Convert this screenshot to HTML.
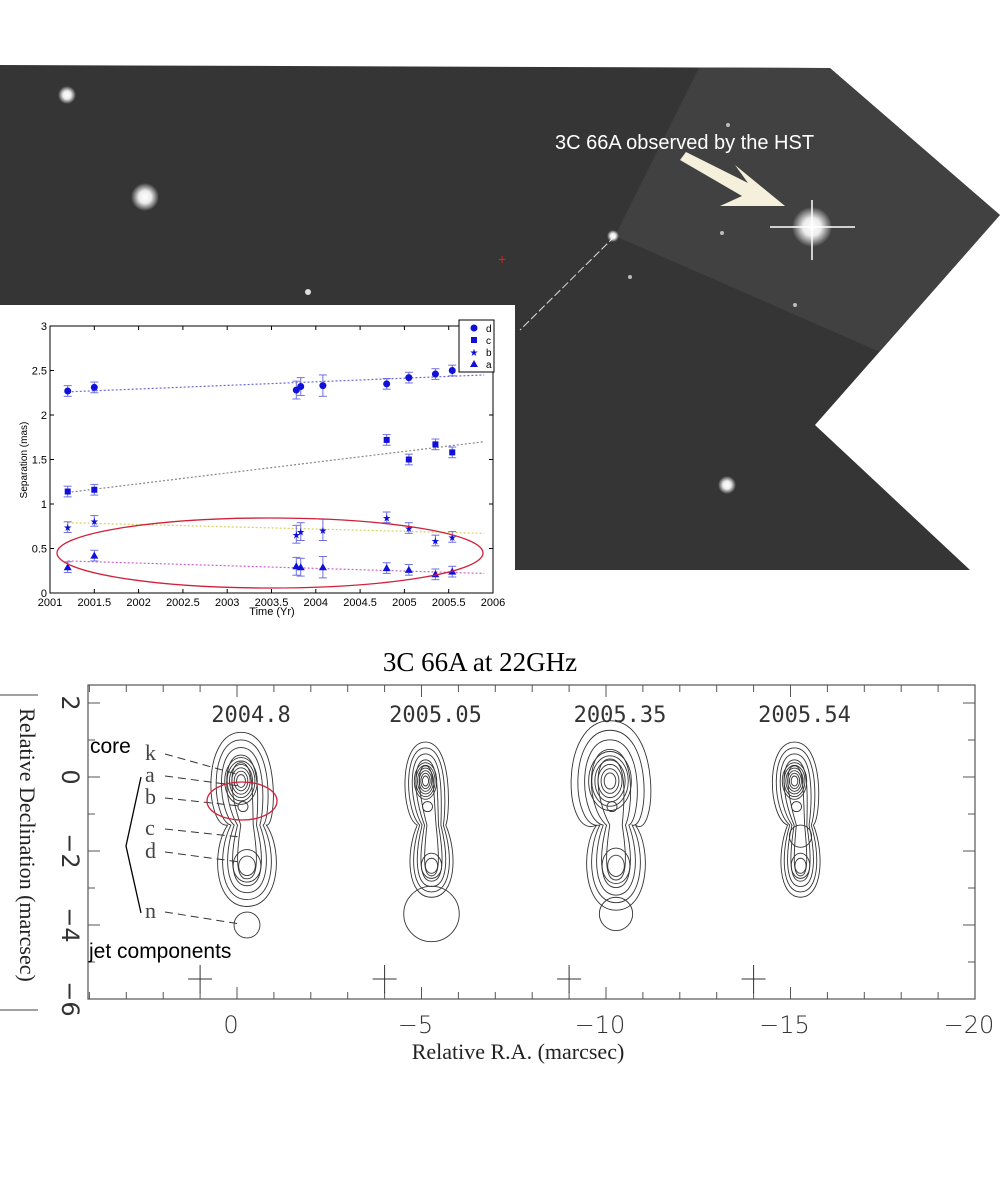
<!DOCTYPE html>
<html><head><meta charset="utf-8">
<style>
html,body{margin:0;padding:0;background:#fff;}
svg{display:block;}
</style></head>
<body>
<svg id="root" width="1001" height="1181" viewBox="0 0 1001 1181" xmlns="http://www.w3.org/2000/svg" font-family="Liberation Sans, sans-serif">
<defs>
<radialGradient id="star"><stop offset="0" stop-color="#fff"/><stop offset="0.45" stop-color="#fff" stop-opacity="0.9"/><stop offset="1" stop-color="#fff" stop-opacity="0"/></radialGradient>
<clipPath id="skyclip"><polygon points="0,65 830,68 1000,215 815,425 970,570 0,570"/></clipPath>
</defs>

<g>
<polygon points="0,65 830,68 1000,215 815,425 970,570 0,570" fill="#353535"/>
<polygon points="700,66 830,68 1000,215 880,352 615,236" fill="#414141" clip-path="url(#skyclip)"/>
<line x1="615" y1="236" x2="520" y2="330" stroke="#ddd" stroke-width="1" stroke-dasharray="8,3"/>
<circle cx="67" cy="95" r="9" fill="url(#star)"/>
<circle cx="145" cy="197" r="14" fill="url(#star)"/>
<circle cx="613" cy="236" r="6" fill="url(#star)"/>
<circle cx="812" cy="227" r="20" fill="url(#star)"/>
<line x1="770" y1="227" x2="855" y2="227" stroke="#fff" stroke-width="1.5"/>
<line x1="812" y1="200" x2="812" y2="260" stroke="#fff" stroke-width="1.5"/>
<circle cx="727" cy="485" r="9" fill="url(#star)"/>
<circle cx="308" cy="292" r="3" fill="#ddd"/>
<circle cx="728" cy="125" r="2" fill="#bbb"/>
<circle cx="722" cy="233" r="2" fill="#bbb"/>
<circle cx="795" cy="305" r="2" fill="#bbb"/>
<circle cx="630" cy="277" r="2" fill="#bbb"/>
<text x="498" y="264" fill="#e02020" font-size="14">+</text>
<text x="555" y="149" fill="#fff" font-size="20">3C 66A observed by the HST</text>
<polygon points="680,160 686,152 748,183 735,165 785,206 720,206 742,196" fill="#f4f0dc"/>
</g>

<g id="inset"></g>
<g id="vlbi"></g>
</svg>
<script>
// ---------- Inset chart data ----------
const epochs = [2001.2, 2001.5, 2003.78, 2003.83, 2004.08, 2004.8, 2005.05, 2005.35, 2005.54];
const sepD = [2.27, 2.31, 2.28, 2.32, 2.33, 2.35, 2.42, 2.46, 2.50];
const errD = [0.06, 0.06, 0.10, 0.10, 0.12, 0.06, 0.06, 0.06, 0.06];
const epochsC = [2001.2, 2001.5, 2004.8, 2005.05, 2005.35, 2005.54];
const sepC = [1.14, 1.16, 1.72, 1.50, 1.67, 1.58];
const errC = [0.06, 0.06, 0.06, 0.06, 0.06, 0.06];
const sepB = [0.74, 0.81, 0.66, 0.69, 0.71, 0.85, 0.73, 0.59, 0.63];
const errB = [0.06, 0.06, 0.10, 0.10, 0.12, 0.06, 0.06, 0.06, 0.06];
const sepA = [0.29, 0.42, 0.30, 0.29, 0.29, 0.28, 0.26, 0.21, 0.24];
const errA = [0.06, 0.06, 0.10, 0.10, 0.12, 0.06, 0.06, 0.06, 0.06];
const fitStart = [2.26, 1.13, 0.79, 0.36];
const fitEnd = [2.45, 1.70, 0.67, 0.22];
const fitColors = ['#6a6adc', '#888888', '#d8d060', '#d060d0'];
const xTicks = [2001, 2001.5, 2002, 2002.5, 2003, 2003.5, 2004, 2004.5, 2005, 2005.5, 2006];
const yTicks = [0, 0.5, 1, 1.5, 2, 2.5, 3];
const legendLabels = ['d', 'c', 'b', 'a'];

const NS = 'http://www.w3.org/2000/svg';
function mk(tag, attrs, parent, txt) {
  const e = document.createElementNS(NS, tag);
  for (const k in attrs) e.setAttribute(k, attrs[k]);
  if (txt !== undefined) e.textContent = txt;
  parent.appendChild(e);
  return e;
}
const inset = document.getElementById('inset');
const X0 = 50, X1 = 493, Y0 = 593, Y1 = 326;
const sx = v => X0 + (v - 2001) / 5 * (X1 - X0);
const sy = v => Y0 - v / 3 * (Y0 - Y1);
let bg = mk('rect', {x: 0, y: 305, width: 515, height: 320, fill: '#fff'}, inset);


let frame = mk('rect', {x: X0, y: Y1, width: X1 - X0, height: Y0 - Y1, fill: 'none', stroke: '#000', 'stroke-width': 1}, inset);


xTicks.forEach(t => {
  const x = sx(t);
  mk('line', {x1: x, x2: x, y1: Y0, y2: Y0 - 4, stroke: '#000'}, inset);
  mk('line', {x1: x, x2: x, y1: Y1, y2: Y1 + 4, stroke: '#000'}, inset);
  const tl = mk('text', {x: x, y: Y0 + 13, 'font-size': 11, 'text-anchor': 'middle'}, inset, String(t));
  
  
});
yTicks.forEach(t => {
  const y = sy(t);
  mk('line', {x1: X0, x2: X0 + 4, y1: y, y2: y, stroke: '#000'}, inset);
  mk('line', {x1: X1, x2: X1 - 4, y1: y, y2: y, stroke: '#000'}, inset);
  const tl = mk('text', {x: X0 - 3, y: y + 4, 'font-size': 11, 'text-anchor': 'end'}, inset, String(t));
  
  
});
let xt = mk('text', {x: 272, y: 615, 'font-size': 11, 'text-anchor': 'middle'}, inset, 'Time (Yr)');


let yt = mk('text', {x: 27, y: 460, 'font-size': 10, 'text-anchor': 'middle', transform: 'rotate(-90 27 460)'}, inset, 'Separation (mas)');


fitStart.forEach((s, i) => {
  const ln = mk('line', {x1: sx(2001.2), y1: sy(s), x2: sx(2005.9), y2: sy(fitEnd[i]), stroke: fitColors[i], 'stroke-width': 1.2, 'stroke-dasharray': '2,2'}, inset);
  
  
});
function marker(shape, x, y, g) {
  if (shape === 'circle') return mk('circle', {cx: x, cy: y, r: 3.5, fill: '#1010d8'}, g);
  if (shape === 'square') return mk('rect', {x: x - 3, y: y - 3, width: 6, height: 6, fill: '#1010d8'}, g);
  if (shape === 'star') return mk('text', {x: x, y: y + 4, 'font-size': 10, 'text-anchor': 'middle', fill: '#1010d8'}, g, '★');
  return mk('polygon', {points: `${x},${y-4} ${x+4},${y+3} ${x-4},${y+3}`, fill: '#1010d8'}, g);
}
function series(xs, ys, es, shape, name) {
  xs.forEach((t, i) => {
    const x = sx(t), y = sy(ys[i]), e = es[i];
    const g = mk('g', {}, inset);
    
    
    mk('line', {x1: x, x2: x, y1: sy(ys[i] + e), y2: sy(ys[i] - e), stroke: '#7070e0'}, g);
    mk('line', {x1: x - 4, x2: x + 4, y1: sy(ys[i] + e), y2: sy(ys[i] + e), stroke: '#7070e0'}, g);
    mk('line', {x1: x - 4, x2: x + 4, y1: sy(ys[i] - e), y2: sy(ys[i] - e), stroke: '#7070e0'}, g);
    marker(shape, x, y, g);
  });
}
series(epochs, sepD, errD, 'circle', 'series-d');
series(epochsC, sepC, errC, 'square', 'series-c');
series(epochs, sepB, errB, 'star', 'series-b');
series(epochs, sepA, errA, 'triangle', 'series-a');
const lg = mk('g', {}, inset);


mk('rect', {x: 459, y: 320, width: 35, height: 52, fill: '#fff', stroke: '#000'}, lg);
['circle', 'square', 'star', 'triangle'].forEach((s, i) => {
  const y = 328 + i * 12;
  const le = mk('g', {}, lg);
  
  
  marker(s, 474, y, le);
  mk('text', {x: 486, y: y + 4, 'font-size': 10}, le, legendLabels[i]);
});
let re = mk('ellipse', {cx: 270, cy: 553, rx: 213, ry: 35, fill: 'none', stroke: '#d0203a', 'stroke-width': 1.3}, inset);



// ---------- VLBI chart ----------
const raTicks = [0, -5, -10, -15, -20];
const decTicks = [2, 0, -2, -4, -6];
const epochLabels = ['2004.8', '2005.05', '2005.35', '2005.54'];
const epochRA = [0, -5, -10, -15];
const coreSize = [[0.8, 1.15], [0.55, 0.9], [1.05, 1.45], [0.6, 0.9]];
const jetDec = [-2.4, -2.4, -2.4, -2.4];
const jetSize = [[0.75, 1.1], [0.55, 0.85], [0.75, 1.2], [0.5, 0.85]];
const bigCircDec = [-4.0, -3.7, -3.7, -1.6];
const bigCircR = [0.35, 0.75, 0.45, 0.3];
const beamRA = [1, -4, -9, -14];
const vl = document.getElementById('vlbi');
const VX0 = 88, VX1 = 975, VY0 = 685, VY1 = 999;
const rx = v => 237 - v * 36.9;
const ry = v => 777 - v * 37;
let vf = mk('rect', {x: VX0, y: VY0, width: VX1 - VX0, height: VY1 - VY0, fill: 'none', stroke: '#555', 'stroke-width': 1.2}, vl);


for (let v = 4; v >= -20; v--) {
  const x = rx(v); if (x < VX0 + 1 || x > VX1 - 1) continue;
  const L = (v % 5 === 0) ? 12 : 7;
  mk('line', {x1: x, x2: x, y1: VY0, y2: VY0 + L, stroke: '#555'}, vl);
  mk('line', {x1: x, x2: x, y1: VY1, y2: VY1 - L, stroke: '#555'}, vl);
}
for (let v = 2; v >= -6; v--) {
  const y = ry(v);
  const L = (v % 2 === 0) ? 12 : 7;
  mk('line', {x1: VX0, x2: VX0 + L, y1: y, y2: y, stroke: '#555'}, vl);
  mk('line', {x1: VX1, x2: VX1 - L, y1: y, y2: y, stroke: '#555'}, vl);
}
raTicks.forEach(t => {
  const tl = mk('text', {x: rx(t) - 6, y: 1033, 'font-size': 24, 'text-anchor': 'middle', 'font-family': 'DejaVu Sans, sans-serif', 'font-weight': 200, fill: '#333'}, vl, t === 0 ? '0' : '\u2212' + (-t));
  
  
});
decTicks.forEach(t => {
  const y = ry(t);
  const tl = mk('text', {x: 62, y: y, 'font-size': 24, 'text-anchor': 'middle', 'font-family': 'DejaVu Sans, sans-serif', fill: '#333', transform: `rotate(90 62 ${y})`}, vl, t >= 0 ? String(t) : '\u2212' + (-t));
  
  
});
let vt = mk('text', {x: 480, y: 671, 'font-size': 27, 'text-anchor': 'middle', 'font-family': 'Liberation Serif, serif'}, vl, '3C 66A at 22GHz');


let vxt = mk('text', {x: 518, y: 1059, 'font-size': 22, 'text-anchor': 'middle', 'font-family': 'Liberation Serif, serif', fill: '#222'}, vl, 'Relative R.A. (marcsec)');


let vyt = mk('text', {x: 20, y: 845, 'font-size': 22, 'text-anchor': 'middle', 'font-family': 'Liberation Serif, serif', fill: '#222', transform: 'rotate(90 20 845)'}, vl, 'Relative Declination (marcsec)');


mk('line', {x1: 0, x2: 38, y1: 695, y2: 695, stroke: '#444'}, vl);
mk('line', {x1: 0, x2: 38, y1: 1010, y2: 1010, stroke: '#444'}, vl);

epochRA.forEach((ra, i) => {
  const g = mk('g', {fill: 'none', stroke: '#333', 'stroke-width': 0.9}, vl);
  
  
  const cx = rx(ra) + 4;
  const lbl = mk('text', {x: cx + 10, y: 722, 'font-size': 22, 'text-anchor': 'middle', 'font-family': 'DejaVu Sans Mono, monospace', fill: '#333', stroke: 'none'}, vl, epochLabels[i]);
  
  
  const cR = coreSize[i], jR = jetSize[i];
  const jx = cx + 6;
  for (let k = 0; k < 5; k++) {
    const f = 1 - k * 0.17;
    const cw = cR[0] * 37 * f, ch = cR[1] * 37 * f;
    const jw = jR[0] * 37 * f, jh = jR[1] * 37 * f;
    const top = ry(0) - ch * 1.05, bot = ry(jetDec[i]) + jh;
    const d = `M ${cx} ${top} C ${cx + cw * 1.35} ${top}, ${cx + cw * 1.2} ${ry(0) + ch * 1.2}, ${jx + jw * 0.7} ${ry(-1.3)} C ${jx + jw * 1.3} ${ry(jetDec[i]) - jh * 0.4}, ${jx + jw * 1.2} ${bot}, ${jx} ${bot} C ${jx - jw * 1.2} ${bot}, ${jx - jw * 1.3} ${ry(jetDec[i]) - jh * 0.4}, ${jx - jw * 0.7} ${ry(-1.3)} C ${cx - cw * 1.2} ${ry(0) + ch * 1.2}, ${cx - cw * 1.35} ${top}, ${cx} ${top} Z`;
    mk('path', {d: d}, g);
  }
  for (let k = 0; k < 6; k++) {
    const f = 0.55 - k * 0.08;
    mk('ellipse', {cx: cx, cy: ry(0) + 4, rx: cR[0] * 37 * f, ry: cR[1] * 37 * f}, g);
  }
  for (let k = 0; k < 2; k++) {
    const f = 0.5 - k * 0.2;
    mk('ellipse', {cx: jx, cy: ry(jetDec[i]), rx: jR[0] * 37 * f, ry: jR[1] * 37 * f * 0.8}, g);
  }
  mk('circle', {cx: cx + 6, cy: ry(bigCircDec[i]), r: bigCircR[i] * 37}, g);
  mk('circle', {cx: cx + 2, cy: ry(-0.8), r: 5}, g);
});
beamRA.forEach((ra, i) => {
  const x = rx(ra), y = 979;
  const c = mk('path', {d: `M ${x - 12} ${y} H ${x + 12} M ${x} ${y - 14} V ${y + 14}`, stroke: '#333', fill: 'none'}, vl);
  
  
});
const ann = mk('g', {}, vl);


mk('text', {x: 90, y: 753, 'font-size': 21}, ann, 'core');
mk('text', {x: 89, y: 958, 'font-size': 21}, ann, 'jet components');
const compNames = ['k', 'a', 'b', 'c', 'd', 'n'];
const compLabelY = [760, 782, 804, 835, 858, 918];
const compTargetY = [775, 786, 806, 837, 862, 924];
compNames.forEach((n, i) => {
  mk('text', {x: 145, y: compLabelY[i], 'font-size': 22, 'font-family': 'Liberation Serif, serif', fill: '#444'}, ann, n);
  mk('line', {x1: 165, y1: compLabelY[i] - 6, x2: 240, y2: compTargetY[i], stroke: '#333', 'stroke-dasharray': '8,5'}, ann);
});
mk('path', {d: 'M 141 777 L 126 846 L 141 913', stroke: '#000', fill: 'none', 'stroke-width': 1.3}, ann);
let vre = mk('ellipse', {cx: 242, cy: 801, rx: 35, ry: 19, fill: 'none', stroke: '#d0203a', 'stroke-width': 1.3}, vl);


</script>
</body></html>
